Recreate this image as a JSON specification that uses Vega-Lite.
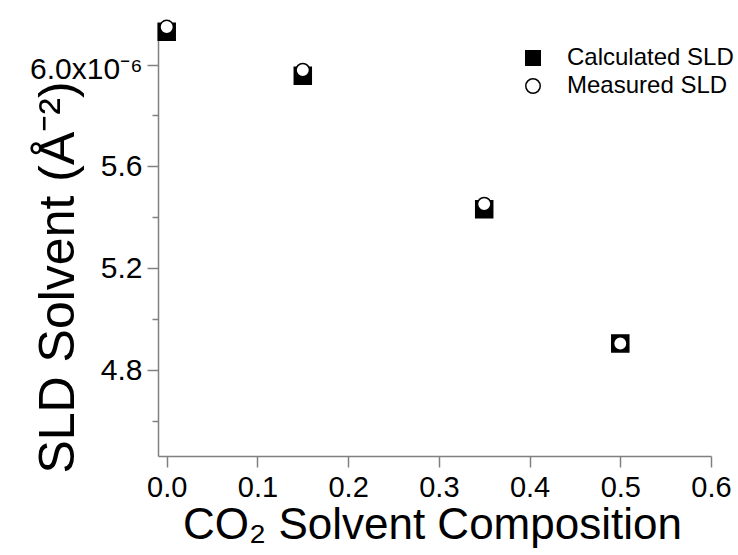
{
  "$schema": "https://vega.github.io/schema/vega-lite/v6.json",
  "width": 553,
  "height": 433,
  "autosize": "none",
  "padding": {"left": 158, "top": 23, "right": 27, "bottom": 99},
  "background": "white",
  "config": {
    "view": {"stroke": null},
    "font": "Liberation Sans",
    "axis": {
      "grid": false,
      "domainColor": "#808080",
      "domainWidth": 1.5,
      "tickColor": "#808080",
      "tickWidth": 1.5,
      "labelColor": "black",
      "titleColor": "black",
      "titleFontWeight": "normal",
      "labelOverlap": false,
      "labelFlush": false,
      "labelBound": false
    },
    "legend": {
      "labelFontSize": 24,
      "labelColor": "black",
      "labelOffset": 22,
      "labelLimit": 400,
      "symbolSize": 210,
      "symbolStrokeWidth": 1.5,
      "rowPadding": 4
    }
  },
  "data": {
    "values": [
      {"x": 0.0, "y": 6.129, "series": "Calculated SLD"},
      {"x": 0.15, "y": 5.956, "series": "Calculated SLD"},
      {"x": 0.35, "y": 5.432, "series": "Calculated SLD"},
      {"x": 0.5, "y": 4.905, "series": "Calculated SLD"},
      {"x": 0.0, "y": 6.147, "series": "Measured SLD"},
      {"x": 0.15, "y": 5.978, "series": "Measured SLD"},
      {"x": 0.35, "y": 5.452, "series": "Measured SLD"},
      {"x": 0.5, "y": 4.905, "series": "Measured SLD"}
    ]
  },
  "encoding": {
    "x": {
      "field": "x",
      "type": "quantitative",
      "scale": {"domain": [-0.0096, 0.6], "nice": false, "zero": false},
      "axis": {
        "values": [0, 0.1, 0.2, 0.3, 0.4, 0.5, 0.6],
        "format": ".1f",
        "tickSize": 11,
        "labelFontSize": 29,
        "labelPadding": 6,
        "title": "CO₂ Solvent Composition",
        "titleFontSize": 44,
        "titleBaseline": "alphabetic",
        "titleAlign": "center",
        "titleX": 274,
        "titleY": 82
      }
    },
    "y": {
      "field": "y",
      "type": "quantitative",
      "scale": {"domain": [4.463, 6.163], "nice": false, "zero": false},
      "axis": {
        "values": [4.6, 4.8, 5.0, 5.2, 5.4, 5.6, 5.8, 6.0],
        "labelExpr": "datum.value == 6 ? '6.0x10⁻⁶' : ((datum.value == 4.8 || datum.value == 5.2 || datum.value == 5.6) ? format(datum.value, '.1f') : '')",
        "tickSize": {"condition": {"test": "datum.value == 4.8 || datum.value == 5.2 || datum.value == 5.6 || datum.value == 6", "value": 11}, "value": 6},
        "labelOffset": {"condition": {"test": "datum.value == 6", "value": 5}, "value": 0},
        "labelFontSize": 30,
        "labelPadding": 5,
        "title": "SLD Solvent (Å⁻²)",
        "titleFontSize": 50,
        "titleAngle": 270,
        "titleBaseline": "alphabetic",
        "titleAlign": "center",
        "titleX": -85,
        "titleY": 254
      }
    },
    "shape": {
      "field": "series",
      "type": "nominal",
      "scale": {"domain": ["Calculated SLD", "Measured SLD"], "range": ["square", "circle"]},
      "legend": {"title": null, "orient": "none", "legendX": 363, "legendY": 23}
    },
    "fill": {
      "field": "series",
      "type": "nominal",
      "scale": {"domain": ["Calculated SLD", "Measured SLD"], "range": ["black", "white"]},
      "legend": {"title": null, "orient": "none", "legendX": 363, "legendY": 23}
    },
    "stroke": {
      "field": "series",
      "type": "nominal",
      "scale": {"domain": ["Calculated SLD", "Measured SLD"], "range": ["black", "black"]},
      "legend": {"title": null, "orient": "none", "legendX": 363, "legendY": 23}
    }
  },
  "layer": [
    {
      "transform": [{"filter": "datum.series == 'Calculated SLD'"}],
      "mark": {"type": "point", "filled": true, "strokeWidth": 1.5, "opacity": 1, "clip": false, "size": 289}
    },
    {
      "transform": [{"filter": "datum.series == 'Measured SLD'"}],
      "mark": {"type": "point", "filled": true, "strokeWidth": 1.5, "opacity": 1, "clip": false, "size": 180}
    }
  ]
}
